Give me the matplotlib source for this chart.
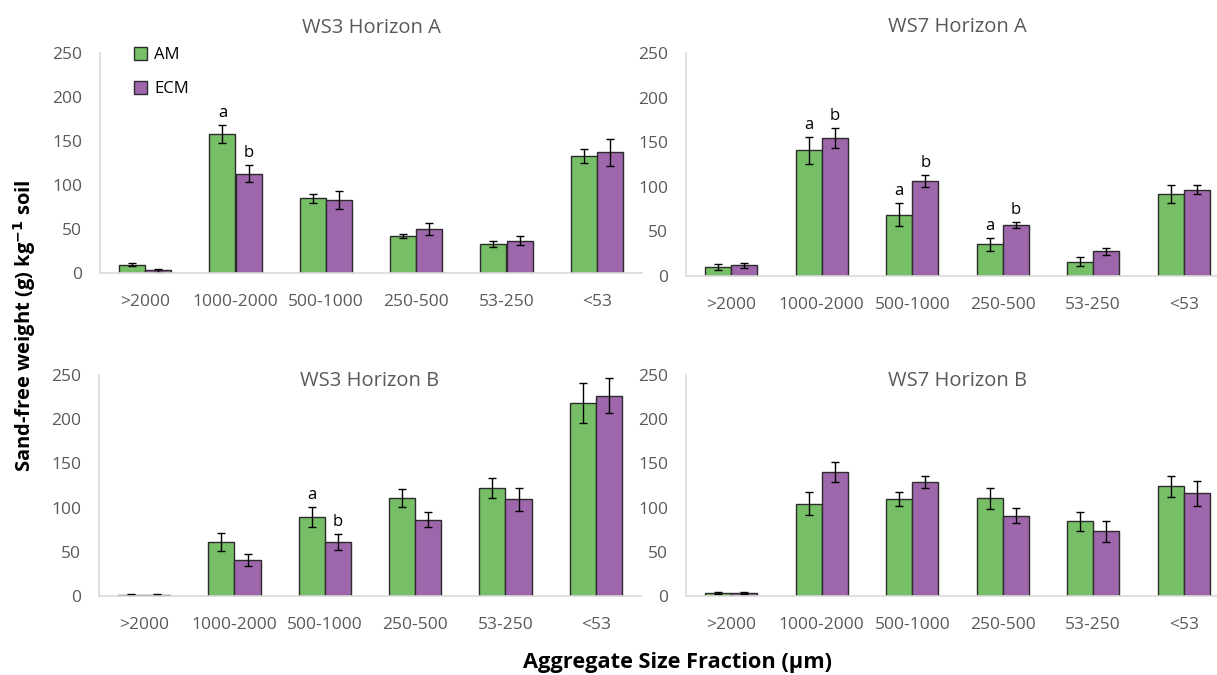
import matplotlib as mpl
import matplotlib.pyplot as plt
import numpy as np

mpl.rcParams['font.family'] = ['Open Sans', 'DejaVu Sans']

categories = ['>2000', '1000-2000', '500-1000', '250-500', '53-250', '<53']

# WS3 Horizon A
ws3a_am = [9.5, 158, 85, 42, 33, 133]
ws3a_am_err = [2, 10, 5, 2.5, 3.5, 8]
ws3a_ecm = [3, 113, 83, 50, 36.5, 137]
ws3a_ecm_err = [1.5, 10, 10, 7, 5, 15]

# WS7 Horizon A
ws7a_am = [10.5, 141, 68.5, 35.5, 16, 91.5]
ws7a_am_err = [3.5, 15, 13, 7, 5, 10]
ws7a_ecm = [12, 154.5, 106.5, 57, 27.5, 96.5]
ws7a_ecm_err = [2.5, 11, 6.5, 3.5, 3.5, 5]

# WS3 Horizon B
ws3b_am = [1.5, 61, 89.5, 110.5, 122.5, 218.5]
ws3b_am_err = [0.5, 10, 11.5, 10, 11.5, 23]
ws3b_ecm = [1.5, 41, 61, 86, 109.5, 226.5]
ws3b_ecm_err = [0.5, 7, 9, 8.5, 13, 20]

# WS7 Horizon B
ws7b_am = [3, 104.5, 109.5, 110.5, 84.5, 124]
ws7b_am_err = [1, 13, 8, 12, 11, 11.5]
ws7b_ecm = [3, 140.5, 129, 91, 73, 116]
ws7b_ecm_err = [1, 11.5, 7, 8, 11.5, 14.5]

# significance letters: (category index, AM letter, ECM letter)
ws3a_letters = [(1, 'a', 'b')]
ws7a_letters = [(1, 'a', 'b'), (2, 'a', 'b'), (3, 'a', 'b')]
ws3b_letters = [(2, 'a', 'b')]
ws7b_letters = []

GREEN = '#77BF67'
PURPLE = '#9E66AB'
GRID_GRAY = '#D9D9D9'
TEXT_GRAY = '#595959'
W = 1217
H = 675


def px_axes(fig, x0, x1, y_top, y_bot):
    return fig.add_axes([x0 / W, 1 - y_bot / H, (x1 - x0) / W, (y_bot - y_top) / H])


def draw_panel(ax, title, am, am_err, ecm, ecm_err, letters, title_y):
    x = np.arange(len(categories))
    bw = 0.288
    ekw = dict(ecolor='black', elinewidth=1.0, capsize=3, capthick=1.0)
    ax.bar(x - bw / 2, am, bw, yerr=am_err, color=GREEN, edgecolor='#2b2b2b',
           linewidth=1.0, error_kw=ekw, label='AM', zorder=2)
    ax.bar(x + bw / 2, ecm, bw, yerr=ecm_err, color=PURPLE, edgecolor='#2b2b2b',
           linewidth=1.0, error_kw=ekw, label='ECM', zorder=2)

    for idx, la, lb in letters:
        ax.annotate(la, (idx - bw / 2, am[idx] + am_err[idx]), xytext=(0, 3),
                    textcoords='offset points', ha='center', va='bottom',
                    fontsize=12, color='black')
        ax.annotate(lb, (idx + bw / 2, ecm[idx] + ecm_err[idx]), xytext=(0, 3),
                    textcoords='offset points', ha='center', va='bottom',
                    fontsize=12, color='black')

    ax.set_xlim(-0.5, len(categories) - 0.5)
    ax.set_ylim(0, 250)
    ax.set_yticks(range(0, 251, 50))
    ax.set_xticks(x)
    ax.set_xticklabels(categories)
    ax.tick_params(length=0, labelsize=12.5, colors=TEXT_GRAY)
    ax.tick_params(axis='x', pad=15)
    ax.tick_params(axis='y', pad=13)
    for s in ['top', 'right']:
        ax.spines[s].set_visible(False)
    for s in ['left', 'bottom']:
        ax.spines[s].set_color(GRID_GRAY)
        ax.spines[s].set_linewidth(1.2)
    ax.text(0.5, title_y, title, transform=ax.transAxes, ha='center',
            va='center', fontsize=14.5, color=TEXT_GRAY)


fig = plt.figure(figsize=(W / 100, H / 100), dpi=100)

ax1 = px_axes(fig, 100, 642, 53, 273)
ax2 = px_axes(fig, 686, 1229, 53, 276)
ax3 = px_axes(fig, 99, 641, 375, 596)
ax4 = px_axes(fig, 686, 1229, 375, 596)

draw_panel(ax1, 'WS3 Horizon A', ws3a_am, ws3a_am_err, ws3a_ecm, ws3a_ecm_err,
           ws3a_letters, 1.115)
draw_panel(ax2, 'WS7 Horizon A', ws7a_am, ws7a_am_err, ws7a_ecm, ws7a_ecm_err,
           ws7a_letters, 1.115)
draw_panel(ax3, 'WS3 Horizon B', ws3b_am, ws3b_am_err, ws3b_ecm, ws3b_ecm_err,
           ws3b_letters, 0.975)
draw_panel(ax4, 'WS7 Horizon B', ws7b_am, ws7b_am_err, ws7b_ecm, ws7b_ecm_err,
           ws7b_letters, 0.975)

leg = ax1.legend(loc='upper left', bbox_to_anchor=(0.035, 1.095), frameon=False,
                 fontsize=12, handlelength=0.8, handleheight=0.8,
                 handletextpad=0.4, labelspacing=1.05)
for p in leg.get_patches():
    p.set_edgecolor('#2b2b2b')

fig.text(0.02, 0.517, 'Sand-free weight (g) kg$^{\\mathbf{-1}}$ soil', rotation=90,
         ha='center', va='center', fontsize=14.5, fontweight='bold', color='black')
fig.text(0.557, 0.018, 'Aggregate Size Fraction (µm)', ha='center', va='center',
         fontsize=15.7, fontweight='bold', color='black')

fig.savefig('out.png', dpi=100)
